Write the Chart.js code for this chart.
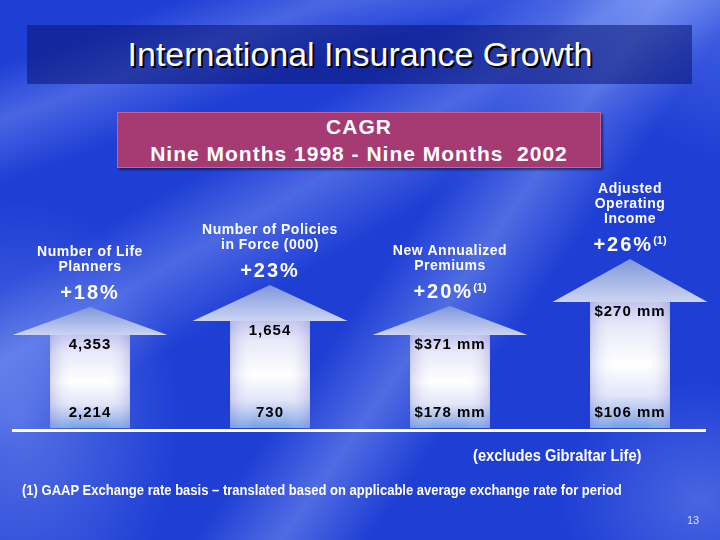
<!DOCTYPE html>
<html>
<head>
<meta charset="utf-8">
<script src="https://cdn.jsdelivr.net/npm/chart.js@4.4.1/dist/chart.umd.min.js"></script>
<style>
  html, body { margin: 0; padding: 0; }
  body {
    width: 720px; height: 540px; overflow: hidden; position: relative;
    font-family: Arial, "Liberation Sans", sans-serif;
    background:
      radial-gradient(ellipse 160px 220px at 20px 420px, rgba(150,175,250,0.45), transparent),
      radial-gradient(ellipse 140px 120px at 700px 500px, rgba(150,175,250,0.35), transparent),
      linear-gradient(160deg, transparent 8%, rgba(150,175,255,0.35) 15%, transparent 23%),
      linear-gradient(150deg, transparent 30%, rgba(160,185,255,0.35) 38%, transparent 47%),
      linear-gradient(125deg, transparent 52%, rgba(170,195,255,0.35) 60%, transparent 68%),
      linear-gradient(200deg, rgba(140,170,255,0.35) 0%, transparent 20%),
      #1f3ed4;
  }
  #chart { position: absolute; left: 0; top: 0; }
  .title-box {
    position: absolute; left: 27px; top: 25px; width: 665px; height: 59px;
    background: rgba(10, 20, 115, 0.55);
  }
  .title {
    position: absolute; left: 0; top: 34px; width: 720px; text-align: center;
    color: #fff; font-size: 34px; line-height: 40px;
    text-shadow: 2px 2px 0 #000;
  }
  .cagr {
    position: absolute; left: 117px; top: 112px; width: 482px; height: 54px;
    background: #a63a72; border: 1px solid #c8609a;
    box-shadow: 2px 2px 2px rgba(0,0,40,0.5);
    color: #fff; font-weight: bold; font-size: 21px; letter-spacing: 1px;
    text-align: center; line-height: 27px;
  }
  .baseline { position: absolute; left: 12px; top: 429px; width: 694px; height: 3px; background: #fff; }
  .note {
    position: absolute; color: #fff; font-weight: bold; white-space: nowrap;
    transform-origin: left top;
  }
</style>
</head>
<body>
<div class="title-box"></div>
<div class="title">International Insurance Growth</div>
<div class="cagr">CAGR<br>Nine Months 1998 - Nine Months&nbsp; 2002</div>
<canvas id="chart" width="720" height="540"></canvas>
<div class="baseline"></div>
<div class="note" style="left:473px; top:447px; font-size:16px; transform:scaleX(0.92);">(excludes Gibraltar Life)</div>
<div class="note" style="left:22px; top:482px; font-size:14px; transform:scaleX(0.93);">(1) GAAP Exchange rate basis – translated based on applicable average exchange rate for period</div>
<div class="note" style="left:687px; top:514px; font-size:11px; font-weight:normal; color:#d8e0ff;">13</div>
<script>
// chart data
const categories = [['Number of Life', 'Planners'], ['Number of Policies', 'in Force (000)'], ['New Annualized', 'Premiums'], ['Adjusted', 'Operating', 'Income']];
const cagrLabels = ['+18%', '+23%', '+20%', '+26%'];
const cagrNotes = ['', '', '(1)', '(1)'];
const startValues = ['2,214', '730', '$178 mm', '$106 mm'];
const endValues = ['4,353', '1,654', '$371 mm', '$270 mm'];
const shaftHeights = [93, 107, 93, 126];
const headHeights = [28, 36, 29, 43];

function shaftFill(context) {
    const chart = context.chart;
    const y = chart.scales.y;
    if (!y || context.dataIndex === undefined) return '#ffffff';
    const top = y.getPixelForValue(shaftHeights[context.dataIndex]);
    const base = y.getPixelForValue(0);
    if (!isFinite(top) || !isFinite(base) || top === base) return '#ffffff';
    const g = chart.ctx.createLinearGradient(0, top, 0, base);
    g.addColorStop(0, '#c2c4ee');
    g.addColorStop(0.18, '#e8e8f8');
    g.addColorStop(0.5, '#ffffff');
    g.addColorStop(0.74, '#e2e6f8');
    g.addColorStop(0.86, '#b4c6f0');
    g.addColorStop(1, '#74a0e6');
    return g;
}

function setText(ctx, font, spacing) {
    ctx.font = font;
    if ('letterSpacing' in ctx) ctx.letterSpacing = spacing;
}

const arrowPlugin = {
    id: 'arrows',
    afterDatasetsDraw(chart) {
        const ctx = chart.ctx;
        const shafts = chart.getDatasetMeta(0).data;
        const heads = chart.getDatasetMeta(1).data;
        ctx.save();
        shafts.forEach((s, i) => {
            // side shading on the shaft
            const left = s.x - s.width / 2;
            const side = ctx.createLinearGradient(left, 0, left + s.width, 0);
            side.addColorStop(0, 'rgba(140,140,220,0.35)');
            side.addColorStop(0.3, 'rgba(255,255,255,0)');
            side.addColorStop(0.7, 'rgba(255,255,255,0)');
            side.addColorStop(1, 'rgba(140,140,220,0.35)');
            ctx.fillStyle = side;
            ctx.fillRect(left, s.y, s.width, s.base - s.y);

            // arrow head
            const h = heads[i];
            const half = h.width * 0.97;
            const g = ctx.createLinearGradient(0, h.y, 0, h.base);
            g.addColorStop(0, '#7e96da');
            g.addColorStop(1, '#ccd4f2');
            ctx.fillStyle = g;
            ctx.beginPath();
            ctx.moveTo(h.x - half, h.base);
            ctx.lineTo(h.x, h.y);
            ctx.lineTo(h.x + half, h.base);
            ctx.closePath();
            ctx.fill();

            // values inside the shaft
            ctx.fillStyle = '#000';
            ctx.textAlign = 'center';
            ctx.textBaseline = 'middle';
            setText(ctx, 'bold 15px Arial, "Liberation Sans", sans-serif', '1px');
            ctx.fillText(endValues[i], s.x, s.y + 10);
            ctx.fillText(startValues[i], s.x, s.base - 15);

            // CAGR and category labels above
            ctx.fillStyle = '#fff';
            const pctY = h.y - 14;
            setText(ctx, 'bold 20px Arial, "Liberation Sans", sans-serif', '2px');
            const pw = ctx.measureText(cagrLabels[i]).width;
            setText(ctx, 'bold 11px Arial, "Liberation Sans", sans-serif', '0px');
            const nw = cagrNotes[i] ? ctx.measureText(cagrNotes[i]).width : 0;
            const startX = h.x - (pw + nw) / 2;
            ctx.textAlign = 'left';
            setText(ctx, 'bold 20px Arial, "Liberation Sans", sans-serif', '2px');
            ctx.fillText(cagrLabels[i], startX, pctY);
            if (nw) {
                setText(ctx, 'bold 11px Arial, "Liberation Sans", sans-serif', '0px');
                ctx.fillText(cagrNotes[i], startX + pw, pctY - 4);
            }
            ctx.textAlign = 'center';
            setText(ctx, 'bold 14px Arial, "Liberation Sans", sans-serif', '0.5px');
            const lines = categories[i];
            lines.forEach((line, k) => {
                ctx.fillText(line, h.x, pctY - 26 - (lines.length - 1 - k) * 15);
            });
        });
        ctx.restore();
    }
};

new Chart(document.getElementById('chart'), {
    type: 'bar',
    data: {
        labels: categories.map(c => c.join(' ')),
        datasets: [
            { label: 'shaft', data: shaftHeights, backgroundColor: shaftFill, borderWidth: 0 },
            { label: 'head', data: headHeights, backgroundColor: 'rgba(0,0,0,0)', borderWidth: 0 }
        ]
    },
    options: {
        responsive: false,
        animation: false,
        layout: { padding: { top: 180, bottom: 112, left: 0, right: 0 } },
        datasets: { bar: { barPercentage: 0.444, categoryPercentage: 1 } },
        plugins: { legend: { display: false }, tooltip: { enabled: false } },
        scales: {
            x: { display: false, stacked: true },
            y: { display: false, stacked: true, min: 0, max: 248 }
        }
    },
    plugins: [arrowPlugin]
});
</script>
</body>
</html>
